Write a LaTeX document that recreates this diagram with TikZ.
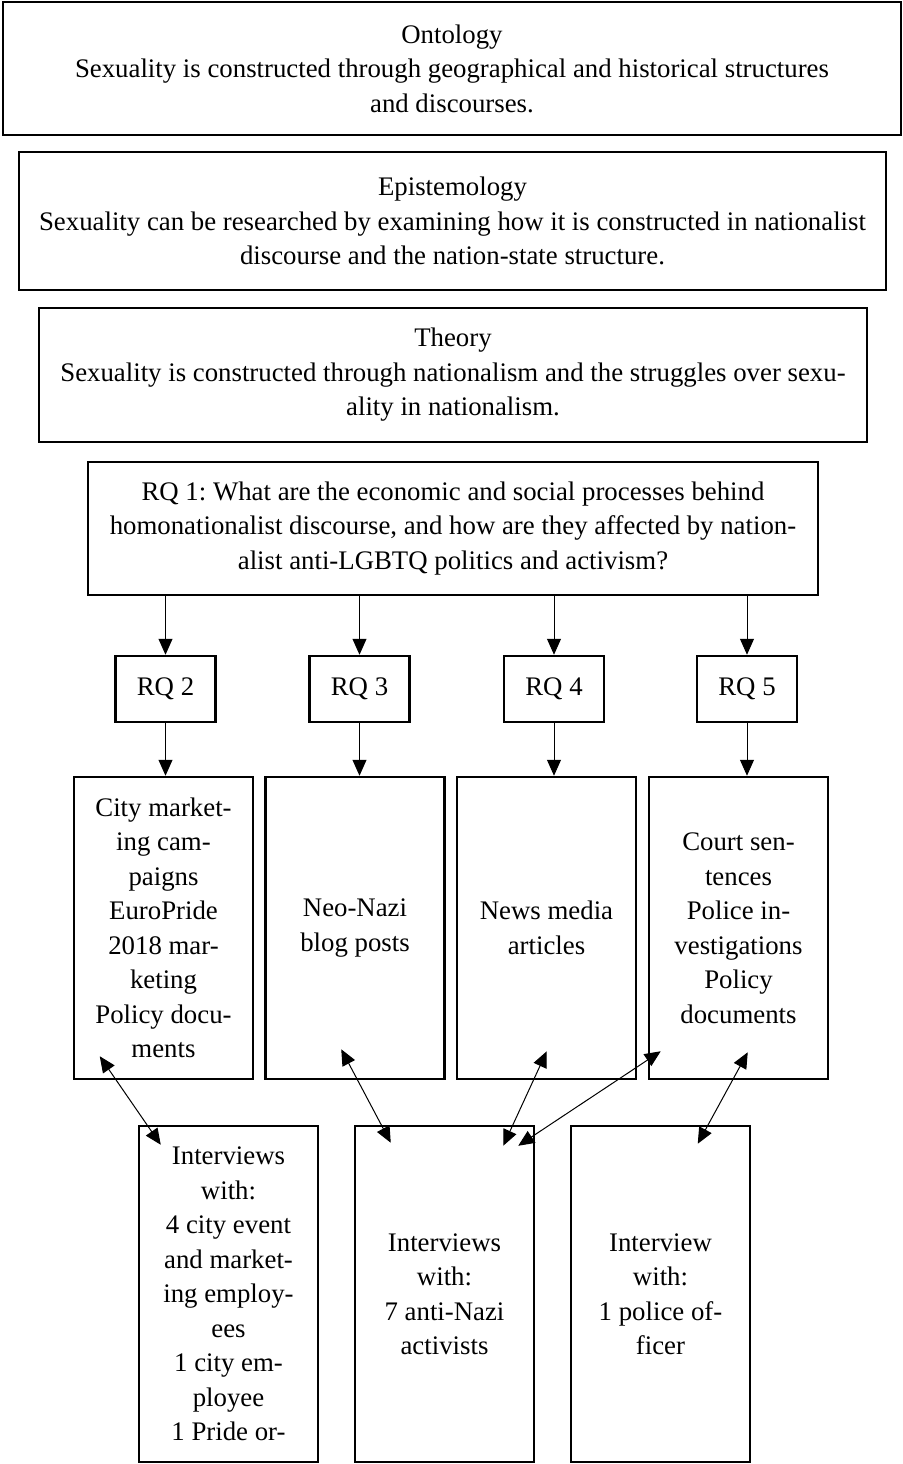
\documentclass[tikz,border=0pt]{standalone}
\usepackage{fontspec}
\setmainfont{Liberation Serif}
\frenchspacing
\usetikzlibrary{arrows.meta,calc}
\tikzset{>={Triangle[length=8pt,width=7pt]},
  every node/.style={font=\fontsize{13.4}{17.25}\selectfont},
  box/.style={draw,line width=1.25pt,align=center,inner sep=0pt},
  rqbox/.style={box,minimum width=50pt,minimum height=33pt},
  srcbox/.style={box,minimum width=89.5pt,minimum height=151pt},
  ivbox/.style={box,minimum width=89.5pt,minimum height=168pt},
  link/.style={->,line width=.5pt},
  twoway/.style={<->,line width=.5pt}}

\begin{document}
\begin{tikzpicture}[x=.5pt,y=-.5pt]
\useasboundingbox (0,0) rectangle (903,1464);
% stacked frames
\node[box,minimum width=449pt,minimum height=66.5pt] (onto) at (452,68.5)
  {Ontology\\Sexuality is constructed through geographical and historical structures\\and discourses.};
\node[box,minimum width=433.5pt,minimum height=69pt] (epis) at (452.5,221)
  {Epistemology\\Sexuality can be researched by examining how it is constructed in nationalist\\discourse and the nation-state structure.};
\node[box,minimum width=414pt,minimum height=67pt] (theo) at (453,375)
  {Theory\\Sexuality is constructed through nationalism and the struggles over sexu-\\ality in nationalism.};
\node[box,minimum width=365pt,minimum height=66.5pt] (rq1) at (453,528.5)
  {RQ 1: What are the economic and social processes behind\\homonationalist discourse, and how are they affected by nation-\\alist anti-LGBTQ politics and activism?};
% sub-questions
\foreach \n/\x in {2/165.5,3/359.5,4/554,5/747}
  \node[rqbox] (rq\n) at (\x,689) {RQ \n};
% material
\node[srcbox] (src2) at (163.5,928) {City market-\\ing cam-\\paigns\\EuroPride\\2018 mar-\\keting\\Policy docu-\\ments};
\node[srcbox] (src3) at (355,928) {Neo-Nazi\\blog posts};
\node[srcbox] (src4) at (546.5,928) {News media\\articles};
\node[srcbox] (src5) at (738.5,928) {Court sen-\\tences\\Police in-\\vestigations\\Policy\\documents};
\foreach \n in {2,...,5} {
  \draw[link] (rq1.south -| rq\n.north) -- (rq\n.north);
  \draw[link] (rq\n.south) -- (rq\n.south |- src\n.north);
}
% interviews
\node[ivbox] (iv1) at (228.5,1294) {Interviews\\with:\\4 city event\\and market-\\ing employ-\\ees\\1 city em-\\ployee\\1 Pride or-};
\node[ivbox] (iv2) at (444.5,1294) {Interviews\\with:\\7 anti-Nazi\\activists};
\node[ivbox] (iv3) at (660.5,1294) {Interview\\with:\\1 police of-\\ficer};
\draw[twoway] ($(src2.south west)+(27,-24)$) -- ($(iv1.north west)+(23,20)$);
\draw[twoway] ($(src3.south west)+(77,-31)$) -- ($(iv2.north west)+(37,18)$);
\draw[twoway] ($(src4.south west)+(91,-29)$) -- ($(iv2.north east)+(-32,21)$);
\draw[twoway] ($(src5.south west)+(13,-29)$) -- ($(iv2.north east)+(-17,21)$);
\draw[twoway] ($(src5.south west)+(100,-28)$) -- ($(iv3.north west)+(128,19)$);
\end{tikzpicture}
\end{document}
